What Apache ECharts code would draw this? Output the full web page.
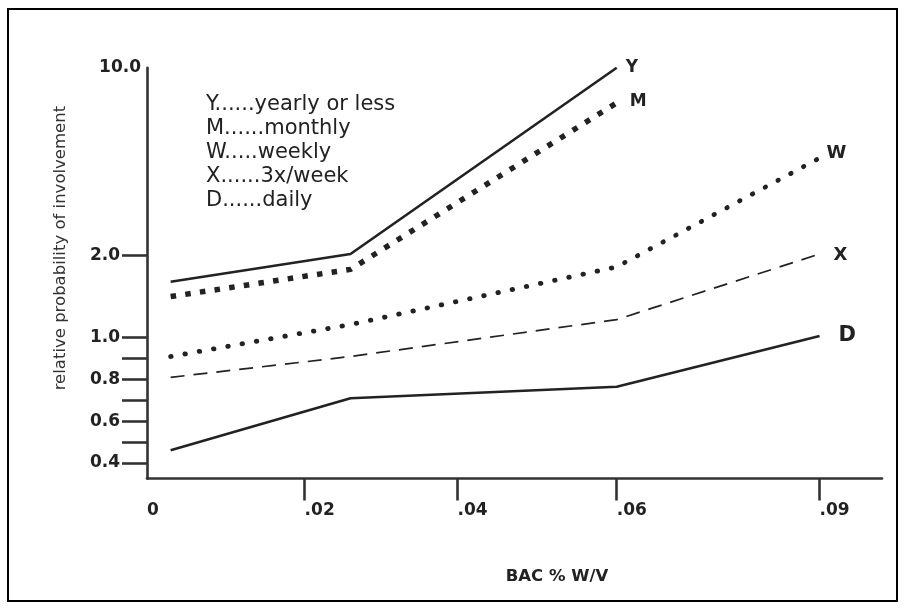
<!DOCTYPE html>
<html><head><meta charset="utf-8">
<script src="https://cdn.jsdelivr.net/npm/echarts@6/dist/echarts.min.js"></script>
<style>html,body{margin:0;padding:0;background:#fff}#c{width:905px;height:610px}</style>
</head><body><div id="c"></div>
<script>
// ---- data ----
const bac = [0.003, 0.026, 0.06, 0.09];
const seriesCodes = ['Y', 'M', 'W', 'X', 'D'];
const legendTexts = ['Y......yearly or less', 'M......monthly', 'W.....weekly', 'X......3x/week', 'D......daily'];
const yearly = [1.68, 2.06, 10.0];
const monthly = [1.50, 1.83, 8.5];
const weekly = [0.91, 1.16, 1.86, 6.15];
const thriceWeekly = [0.81, 0.91, 1.22, 2.06];
const daily = [0.46, 0.71, 0.765, 1.02];
const xTickValues = [0, 0.02, 0.04, 0.06, 0.09];
const xTickLabels = ['0', '.02', '.04', '.06', '.09'];
const yTickValues = [0.4, 0.5, 0.6, 0.7, 0.8, 0.9, 1.0, 2.0];
const yLabelValues = [0.4, 0.6, 0.8, 1.0, 2.0];
const yLabelTexts = ['0.4', '0.6', '0.8', '1.0', '2.0'];
const yTopValue = 10.0;
const yTopText = '10.0';

// ---- hand-drawn (non-uniform) axis scales: value -> axis unit ----
const xKnots = [[0, 0], [0.02, 1.01], [0.04, 1.99], [0.06, 3.01], [0.09, 4.31]];
const xUnitMax = 4.71;
const yKnots = [[0.4, 0.75], [1.0, 6.75], [2.0, 10.7], [10.0, 19.7]];
const yUnitMax = 19.7;

function interp(knots, v) {
  let i = 0;
  while (i < knots.length - 2 && v > knots[i + 1][0]) i++;
  const [a0, b0] = knots[i], [a1, b1] = knots[i + 1];
  return b0 + (v - a0) * (b1 - b0) / (a1 - a0);
}
const tx = v => interp(xKnots, v);
const ty = v => interp(yKnots, v);
const near = (a, b) => Math.abs(a - b) < 1e-6;

const FONT = 'DejaVu Sans';
const INK = '#222';

const lineData = [yearly, monthly, weekly, thriceWeekly, daily];
const lineStyles = [
  { type: 'solid', width: 2.6 },
  { type: [5.5, 9.3], width: 5.5, cap: 'butt' },
  { type: [0.5, 14], width: 4.8, cap: 'round' },
  { type: [14, 9], width: 1.7 },
  { type: 'solid', width: 2.6 }
];
const endLabels = [
  { fontSize: 17, distance: 9, offset: [0, 0] },
  { fontSize: 17, distance: 13, offset: [0, -1] },
  { fontSize: 18, distance: 7, offset: [0, -5] },
  { fontSize: 18, distance: 14, offset: [0, 1] },
  { fontSize: 21, distance: 19, offset: [0, -1] }
];

const chart = echarts.init(document.getElementById('c'), null, { renderer: 'canvas' });
chart.setOption({
  animation: false,
  backgroundColor: '#fff',
  grid: { left: 147, right: 23, top: 67.7, bottom: 131.5, containLabel: false, outerBoundsMode: 'none' },
  legend: {
    show: true,
    orient: 'vertical',
    left: 196,
    top: 88,
    icon: 'none',
    itemWidth: 0,
    itemHeight: 24,
    itemGap: 0,
    selectedMode: false,
    data: seriesCodes,
    formatter: name => legendTexts[seriesCodes.indexOf(name)],
    textStyle: { fontFamily: FONT, fontSize: 21, color: INK, lineHeight: 24 }
  },
  xAxis: {
    type: 'value',
    min: 0,
    max: xUnitMax,
    name: 'BAC % W/V',
    nameLocation: 'middle',
    nameGap: 90,
    nameTextStyle: { fontFamily: FONT, fontWeight: 'bold', fontSize: 16.5, color: INK, padding: [0, 0, 0, 85] },
    axisLine: { show: true, onZero: false, lineStyle: { color: '#333', width: 2.6 } },
    axisTick: { show: true, inside: false, length: 22, lineStyle: { color: '#333', width: 2.6 },
      customValues: xTickValues.filter(v => v > 0).map(tx) },
    axisLabel: {
      show: true,
      customValues: xTickValues.map(tx),
      formatter: v => { const i = xTickValues.findIndex(t => near(tx(t), v)); return i >= 0 ? xTickLabels[i] : ''; },
      margin: 24, align: 'left',
      fontFamily: FONT, fontWeight: 'bold', fontSize: 17, color: INK
    },
    splitLine: { show: false }
  },
  yAxis: [{
    type: 'value',
    min: 0,
    max: yUnitMax,
    position: 'left',
    name: 'relative probability of involvement',
    nameLocation: 'middle',
    nameGap: 78,
    nameTextStyle: { fontFamily: FONT, fontWeight: 'normal', fontSize: 16.5, color: '#333', padding: [0, 0, 0, 50] },
    axisLine: { show: true, onZero: false, lineStyle: { color: '#333', width: 2.6 } },
    axisTick: { show: true, inside: false, length: 25, lineStyle: { color: '#333', width: 2.6 },
      customValues: yTickValues.map(ty) },
    axisLabel: {
      show: true,
      customValues: yLabelValues.map(ty),
      formatter: v => { const i = yLabelValues.findIndex(t => near(ty(t), v)); return i >= 0 ? yLabelTexts[i] : ''; },
      margin: 27,
      fontFamily: FONT, fontWeight: 'bold', fontSize: 17, color: INK
    },
    splitLine: { show: false }
  }, {
    type: 'value',
    min: 0,
    max: yUnitMax,
    position: 'left',
    axisLine: { show: false },
    axisTick: { show: false },
    splitLine: { show: false },
    axisLabel: {
      show: true,
      customValues: [ty(yTopValue)],
      formatter: () => yTopText,
      margin: 6,
      fontFamily: FONT, fontWeight: 'bold', fontSize: 17, color: INK
    }
  }],
  graphic: [{
    type: 'rect',
    shape: { x: 8, y: 9, width: 889, height: 592 },
    style: { fill: null, stroke: '#000', lineWidth: 2 },
    silent: true
  }],
  series: seriesCodes.map((code, k) => ({
    name: code,
    type: 'line',
    yAxisIndex: 0,
    data: lineData[k].map((v, i) => [tx(bac[i]), ty(v)]),
    symbol: 'none',
    showSymbol: false,
    silent: true,
    lineStyle: Object.assign({ color: INK }, lineStyles[k]),
    itemStyle: { color: INK },
    endLabel: {
      show: true,
      formatter: code,
      fontFamily: FONT,
      fontWeight: 'bold',
      color: INK,
      fontSize: endLabels[k].fontSize,
      distance: endLabels[k].distance,
      offset: endLabels[k].offset
    }
  }))
});
</script>
</body></html>
